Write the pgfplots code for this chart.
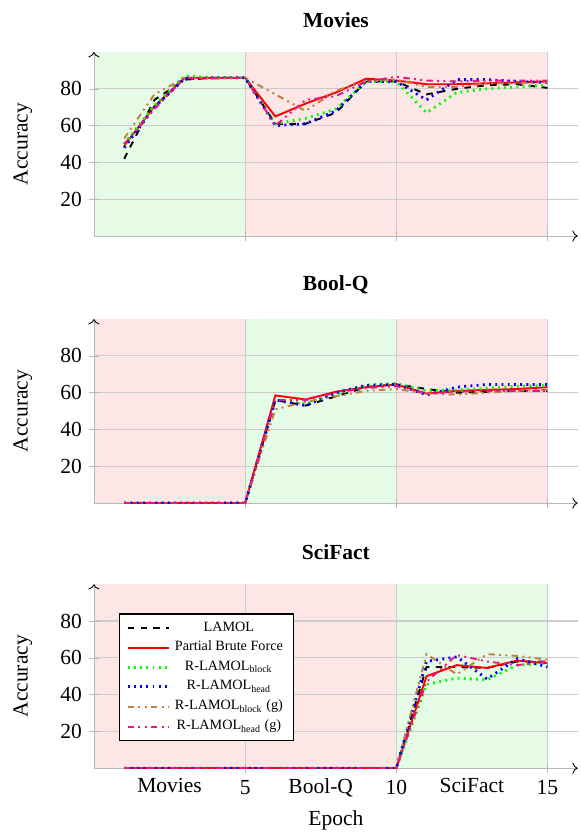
\documentclass[border=0pt]{standalone}
\usepackage{fontspec}
\setmainfont{Liberation Serif}
\usepackage{pgfplots}
\usepackage{pgfplotstable}
\pgfplotsset{compat=1.18}
\usetikzlibrary{arrows.meta}
\definecolor{mypink}{RGB}{235,20,140}
\definecolor{mybrown}{RGB}{191,128,64}
\definecolor{bggreen}{RGB}{230,251,230}
\definecolor{bgred}{RGB}{253,230,230}

\pgfplotstableread{
x lamol pbf rb rh rbg rhg
1 42 49 50 48 53 50
2 74 70.5 71 70 77 69
3 85 86 87 85.5 86 86
4 86 86 86 86 85.5 86
5 86 86 86 86 86 86
6 61 65 61 60 77 60
7 61 72 64 61 68 74
8 67 78 69 68 79 76
9 84 85.5 84 84 84 84
10 84 84.5 84 84 85 86.5
11 77 82.5 67 74 81 84.5
12 80 82.5 78 85 81 84
13 82 83 80 85 83 84.5
14 82.5 83.5 81 84 83 84.5
15 80.5 84 82 83.5 83.5 84.5
}\movies

\pgfplotstableread{
x lamol pbf rb rh rbg rhg
1 0 0 0 0 0 0
2 0 0 0 0 0 0
3 0 0 0 0 0 0
4 0 0 0 0 0 0
5 0 0 0 0 0 0
6 56 58.5 56 56 51 56
7 53 56.3 54 53 55 56
8 58 60.5 59 60 58 60
9 63 63 64 64 61 62.5
10 64.5 64.5 65 64.5 62 63.5
11 62 59.5 61 58.8 59.5 59.5
12 60 61 61.5 63 59 60.5
13 60.5 61.5 62.5 64.5 60 61
14 61 62 63.5 64.5 61 61
15 61 63 64 64.5 61.5 61
}\boolq

\pgfplotstableread{
x lamol pbf rb rh rbg rhg
1 0 0 0 0 0 0
2 0 0 0 0 0 0
3 0 0 0 0 0 0
4 0 0 0 0 0 0
5 0 0 0 0 0 0
6 0 0 0 0 0 0
7 0 0 0 0 0 0
8 0 0 0 0 0 0
9 0 0 0 0 0 0
10 0 0 0 0 0 0
11 55 50 45.5 58 62 47
12 55 56 49 60.5 51 61.5
13 54.5 54.5 48 48.5 62 58
14 58 58.5 56 59.5 61 56
15 58 57 57 55 59 58
}\scifact

\pgfplotsset{
 panel/.style={
  width=225pt, height=85.6pt, scale only axis,
  xmin=0, xmax=16, ymin=0, ymax=100,
  axis lines=left,
  axis line style={draw=gray!55, -{To[black]}},
  xtick={5,10,15}, ytick={20,40,60,80},
  grid=major, grid style={gray!40, line width=0.5pt},
  tick style={gray!55},
  ylabel={Accuracy},
  ylabel style={at={(axis description cs:-0.147,0.5)}, anchor=center},
  title style={font=\bfseries, yshift=2pt},
  /pgf/number format/assume math mode=true,
  set layers,
  every axis plot/.append style={line width=0.9pt},
 },
 lamol/.style={black, dashed},
 pbf/.style={red, solid},
 rblock/.style={green, dotted, line width=1.3pt},
 rhead/.style={blue, dotted, line width=1.3pt},
 rblockg/.style={mybrown, dashdotdotted},
 rheadg/.style={mypink, dashdotdotted},
 bg/.style={draw=none, fill=#1, on layer=axis background, forget plot},
}

\newcommand{\allseries}[1]{%
  \addplot[lamol] table[x=x,y=lamol] {#1};
  \addplot[pbf] table[x=x,y=pbf] {#1};
  \addplot[rblock] table[x=x,y=rb] {#1};
  \addplot[rhead] table[x=x,y=rh] {#1};
  \addplot[rblockg] table[x=x,y=rbg] {#1};
  \addplot[rheadg] table[x=x,y=rhg] {#1};
}

\begin{document}
\begin{tikzpicture}
\begin{axis}[panel, title={Movies}, xticklabels={}]
  \addplot[bg=bggreen] coordinates {(0,0) (0,100) (5,100) (5,0)} -- cycle;
  \addplot[bg=bgred] coordinates {(5,0) (5,100) (15,100) (15,0)} -- cycle;
  \allseries{\movies}
\end{axis}

\begin{axis}[panel, at={(0,-124.2pt)}, title={Bool-Q}, xticklabels={}]
  \addplot[bg=bgred] coordinates {(0,0) (0,100) (5,100) (5,0)} -- cycle;
  \addplot[bg=bggreen] coordinates {(5,0) (5,100) (10,100) (10,0)} -- cycle;
  \addplot[bg=bgred] coordinates {(10,0) (10,100) (15,100) (15,0)} -- cycle;
  \allseries{\boolq}
\end{axis}

\begin{axis}[panel, at={(0,-247.5pt)}, title={SciFact}, xlabel={Epoch},
  xlabel style={at={(axis description cs:0.5,0)}, anchor=center, yshift=-24.2pt},
  extra x ticks={2.5,7.5,12.5},
  extra x tick labels={Movies,Bool-Q,SciFact},
  extra x tick style={major tick length=0pt, grid=none, xticklabel style={yshift=-1.2pt}},
  legend style={at={(0.052,0.842)}, anchor=north west,
    font=\fontsize{6.6}{8}\selectfont, draw=black, line width=0.6pt,
    nodes={inner ysep=1.6pt}},
  legend cell align=center,
  legend image code/.code={\draw[#1] (0cm,0cm) -- (0.68cm,0cm);}]
  \addplot[bg=bgred] coordinates {(0,0) (0,100) (10,100) (10,0)} -- cycle;
  \addplot[bg=bggreen] coordinates {(10,0) (10,100) (15,100) (15,0)} -- cycle;
  \allseries{\scifact}
  \legend{LAMOL, Partial Brute Force, R-LAMOL\textsubscript{block}, R-LAMOL\textsubscript{head}, R-LAMOL\textsubscript{block} (g), R-LAMOL\textsubscript{head} (g)}
\end{axis}
\pgfresetboundingbox
\useasboundingbox (-43.7pt,-278.1pt) rectangle (226.1pt,109.8pt);
\end{tikzpicture}
\end{document}
